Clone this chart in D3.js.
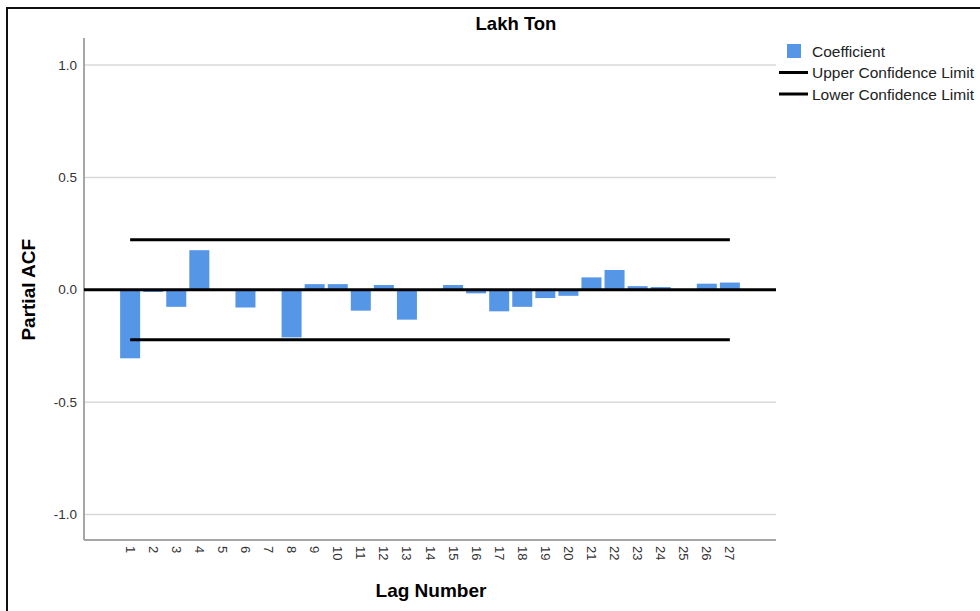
<!DOCTYPE html>
<html>
<head>
<meta charset="utf-8">
<script src="https://cdn.jsdelivr.net/npm/d3@7"></script>
<style>
  body { margin: 0; background: white; }
  svg { display: block; font-family: "Liberation Sans", Arial, sans-serif; }
</style>
</head>
<body>
<div id="chart"></div>
<script>
// partial autocorrelation per lag
const lags = d3.range(1, 28);
const coefficients = [
  -0.305, -0.01, -0.076, 0.176, 0.0, -0.079, 0.0, -0.212, 0.025,
  0.025, -0.093, 0.021, -0.133, 0.0, 0.021, -0.016, -0.096, -0.076,
  -0.037, -0.027, 0.055, 0.088, 0.016, 0.012, 0.0, 0.027, 0.032
];
const upperLimit = 0.222;
const lowerLimit = -0.222;
const yTicks = [1.0, 0.5, 0.0, -0.5, -1.0];
const legendItems = ['Coefficient', 'Upper Confidence Limit', 'Lower Confidence Limit'];

const width = 980, height = 611;
const blue = '#5596e6';

const svg = d3.select('#chart').append('svg')
    .attr('width', width)
    .attr('height', height);

// frame of the picture
svg.append('rect')
    .attr('x', 7).attr('y', 8)
    .attr('width', width + 10).attr('height', height + 10)
    .attr('fill', 'white')
    .attr('stroke', '#111')
    .attr('stroke-width', 2);

const x = d3.scaleLinear().domain([-1, 29]).range([84, 776]);
const y = d3.scaleLinear().domain([-1, 1]).range([514.5, 65]);
const yMin = -1.113, yMax = 1.12;
const barW = 20;

// gridlines
svg.append('g')
    .selectAll('line')
    .data(yTicks.filter(d => d !== 0))
    .join('line')
    .attr('x1', x(-1)).attr('x2', x(29))
    .attr('y1', d => y(d)).attr('y2', d => y(d))
    .attr('stroke', '#d9d9d9')
    .attr('stroke-width', 1.5);

// axis lines
svg.append('line')
    .attr('x1', x(-1)).attr('x2', x(-1))
    .attr('y1', y(yMax)).attr('y2', y(yMin))
    .attr('stroke', '#a6a6a6').attr('stroke-width', 2);
svg.append('line')
    .attr('x1', x(-1)).attr('x2', x(29))
    .attr('y1', y(yMin)).attr('y2', y(yMin))
    .attr('stroke', '#a6a6a6').attr('stroke-width', 2);

// y tick labels (plain hyphen for negatives, as in the original)
svg.append('g')
    .selectAll('text')
    .data(yTicks)
    .join('text')
    .attr('x', 77)
    .attr('y', d => y(d))
    .attr('dy', '0.35em')
    .attr('text-anchor', 'end')
    .attr('font-size', 13.5)
    .attr('fill', '#333')
    .text(d => d.toFixed(1));

// x tick labels, rotated
svg.append('g')
    .selectAll('text')
    .data(lags)
    .join('text')
    .attr('transform', d => `translate(${x(d) - 4.5},${y(yMin) + 6}) rotate(90)`)
    .attr('text-anchor', 'start')
    .attr('font-size', 13)
    .attr('fill', '#333')
    .text(d => d);

// bars
svg.append('g')
    .selectAll('rect')
    .data(lags.map((l, i) => ({ lag: l, v: coefficients[i] })))
    .join('rect')
    .attr('x', d => x(d.lag) - barW / 2)
    .attr('width', barW)
    .attr('y', d => y(Math.max(0, d.v)))
    .attr('height', d => Math.abs(y(d.v) - y(0)))
    .attr('fill', blue);

// zero line
svg.append('line')
    .attr('x1', x(-1)).attr('x2', x(29))
    .attr('y1', y(0)).attr('y2', y(0))
    .attr('stroke', '#000').attr('stroke-width', 3);

// confidence limits
svg.append('g')
    .selectAll('line')
    .data([upperLimit, lowerLimit])
    .join('line')
    .attr('x1', x(lags[0])).attr('x2', x(lags[lags.length - 1]))
    .attr('y1', d => y(d)).attr('y2', d => y(d))
    .attr('stroke', '#000').attr('stroke-width', 3);

// titles
svg.append('text')
    .attr('x', 516).attr('y', 30)
    .attr('text-anchor', 'middle')
    .attr('font-size', 18.5).attr('font-weight', 'bold')
    .text('Lakh Ton');

svg.append('text')
    .attr('x', 431).attr('y', 597)
    .attr('text-anchor', 'middle')
    .attr('font-size', 19).attr('font-weight', 'bold')
    .text('Lag Number');

svg.append('text')
    .attr('transform', `translate(35,${y(0)}) rotate(-90)`)
    .attr('text-anchor', 'middle')
    .attr('font-size', 19).attr('font-weight', 'bold')
    .text('Partial ACF');

// legend
const legend = svg.append('g');
legendItems.forEach((name, i) => {
  const cy = 51 + i * 21.5;
  if (i === 0) {
    legend.append('rect')
      .attr('x', 787).attr('y', cy - 7)
      .attr('width', 14).attr('height', 14)
      .attr('fill', blue);
  } else {
    legend.append('line')
      .attr('x1', 779).attr('x2', 808)
      .attr('y1', cy).attr('y2', cy)
      .attr('stroke', '#000').attr('stroke-width', 3);
  }
  legend.append('text')
    .attr('x', 812).attr('y', cy)
    .attr('dy', '0.36em')
    .attr('font-size', 15.5)
    .attr('fill', '#222')
    .text(name);
});
</script>
</body>
</html>
